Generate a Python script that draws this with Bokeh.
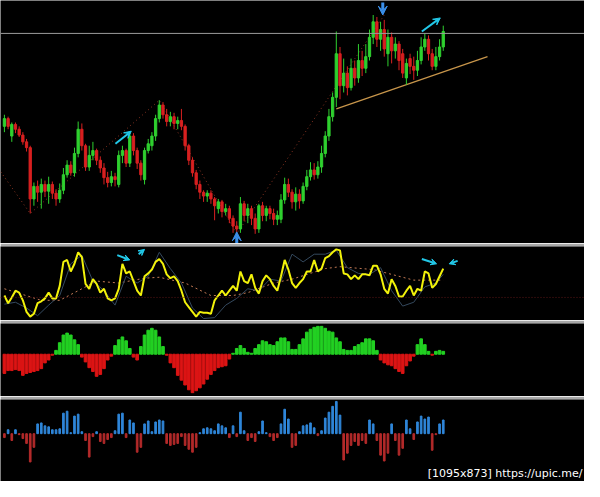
from bokeh.plotting import figure
from bokeh.layouts import column
from bokeh.models import Range1d, Span, Arrow, VeeHead, Label, ColumnDataSource
from bokeh.embed import file_html
from bokeh.resources import INLINE

# ---------------- data ----------------
bars = list(range(120))

opens = [122,130,112,124,119,113,106,100,47,60,54,62,55,62,53,47,56,72,82,74,
         94,119,102,80,92,97,87,79,69,64,70,62,92,97,84,112,97,84,67,97,
         102,112,130,144,134,127,132,125,128,122,102,87,74,62,54,50,53,47,37,44,
         34,37,27,19,16,42,30,37,27,16,40,30,37,32,26,26,46,62,54,44,
         52,45,60,70,77,72,80,94,112,132,152,197,164,177,162,182,172,190,182,194,
         214,230,212,222,197,214,200,207,197,172,192,184,180,190,204,212,197,184,194,204]
closes = [130,122,124,119,113,106,100,47,60,54,62,55,62,53,47,56,72,82,74,94,
          119,102,80,92,97,87,79,69,64,70,67,92,97,84,112,97,84,72,97,104,
          112,130,144,134,127,132,125,128,122,102,87,74,62,54,50,53,47,40,44,34,
          37,27,19,16,42,30,37,27,16,40,30,37,32,26,30,46,62,54,44,52,
          45,60,70,77,72,80,94,112,132,152,197,164,177,162,182,172,190,182,194,214,
          230,212,222,202,214,200,207,190,177,187,184,180,190,204,212,197,184,194,204,220]
highs = [134,132,126,126,122,116,109,102,64,66,68,66,70,65,57,63,79,87,86,100,
         127,125,104,102,106,99,91,84,75,76,74,97,102,99,116,115,100,87,100,109,
         116,134,149,147,140,137,136,132,140,124,104,90,77,66,56,56,56,49,47,46,
         42,40,30,24,49,45,42,40,32,42,44,40,40,37,35,52,69,68,57,59,
         57,64,77,85,84,86,102,117,140,157,220,204,192,184,192,190,207,200,207,222,
         237,235,230,232,222,219,214,210,202,192,197,194,200,214,218,216,202,204,212,226]
lows = [116,119,106,115,111,103,96,32,40,44,37,49,42,47,40,43,52,69,71,70,
        90,97,76,76,87,82,74,62,59,60,60,59,84,80,80,92,78,66,62,94,
        97,107,126,130,122,122,119,119,118,97,82,70,57,47,44,44,42,25,32,28,
        30,22,12,11,12,24,22,20,11,12,24,24,26,20,20,22,42,49,37,35,
        37,42,56,66,67,68,74,90,107,127,142,150,157,154,159,164,167,174,177,190,
        207,204,200,194,184,187,192,180,172,165,176,170,174,186,200,190,180,180,190,200]

# zigzag swing points (bar index, price)
zz_bar = [-1, 7, 42, 63, 103]
zz_price = [75, 32, 149, 11, 237]
# horizontal level and rising trend line
level_price = 218
trend_bar = [90, 131]
trend_price = [140, 194]

# oscillator panel
osc = [26,18,24,31,29,21,9,4,7,18,
       20,23,29,23,23,36,61,63,51,59,
       71,66,38,33,43,38,29,33,23,21,
       23,33,59,49,51,41,31,26,46,49,
       53,61,64,59,48,44,46,41,31,19,
       14,9,4,9,8,8,7,21,26,31,
       26,31,36,31,51,41,39,48,34,28,
       41,47,43,36,31,46,63,53,39,34,
       39,43,51,51,63,51,54,65,67,71,
       74,73,49,48,43,47,43,48,48,47,
       57,57,48,33,28,43,36,25,25,31,
       36,26,33,31,51,49,34,38,46,54]
sig_bar = [0,3,6,9,12,15,18,21,24,27,30,33,36,39,42,45,48,51,54,57,
           60,63,66,69,72,75,78,81,84,87,90,93,96,99,102,105,108,111,114,117,119]
sig = [17,19,13,5,16,26,59,68,41,31,16,46,39,46,71,54,39,13,2,3,
       16,23,33,31,43,41,69,61,69,69,73,55,49,48,55,31,15,19,35,39,48]
ma_bar = [0,10,15,25,31,38,42,49,56,62,66,73,78,87,91,100,107,111,119]
ma = [33,21,21,41,39,44,45,39,26,26,29,39,43,54,56,53,46,42,42]
osc_level = 24

# MACD-like histogram
hist1 = [-20,-17,-17,-16,-17,-22,-20,-19,-18,-17,
         -15,-9,-6,-1,4,12,20,22,20,15,
         10,-3,-8,-14,-18,-23,-21,-15,-6,-2,
         9,15,18,14,6,-3,-6,8,20,25,
         27,25,18,8,-1,-9,-14,-22,-27,-32,
         -37,-40,-38,-35,-31,-26,-21,-17,-14,-13,
         -12,-5,1,6,9,6,2,1,6,10,
         14,13,10,9,13,17,17,13,5,5,
         10,16,23,26,28,29,29,27,24,23,
         17,13,5,4,4,8,10,12,16,16,
         14,4,-6,-9,-11,-12,-15,-18,-20,-12,
         -7,-2,10,16,10,3,-1,3,4,3]

# bottom histogram
hist2 = [-4,4,-7,4,-1,-5,-10,-29,-14,10,
         11,8,7,4,4,5,21,23,1,18,
         20,2,-7,-24,-3,2,-8,-10,-6,-4,
         3,20,21,-4,14,11,-19,-14,10,13,
         2,12,14,13,-10,-12,-11,-10,-3,-12,
         -16,-19,-14,1,5,6,5,3,10,8,
         6,-4,8,-3,22,3,-7,-4,-8,2,
         13,1,-3,-7,-4,10,25,15,-14,-12,
         2,8,9,11,6,-2,3,16,22,28,
         33,19,-27,-20,-12,-8,-12,-7,-10,14,
         10,-7,-22,-28,-20,10,-7,-22,-15,14,
         5,-6,12,18,15,17,-17,-1,10,14]

# signal arrows: (bar_start, y_start, bar_end, y_end)
cyan_main = [(30.1, 104, 34.4, 117), (113.2, 220, 118.2, 234)]
blue_main = [(63, 1, 63, 13), (102.6, 250, 102.6, 237)]
cyan_osc = [(30.6, 68, 34.0, 63), (36.4, 69, 38.0, 74), (113.2, 64, 117.2, 59), (122.9, 62, 120.6, 59)]

# ---------------- colors ----------------
GREEN = "#2fd02f"
RED = "#d82020"
BG = "black"
SEP = "#a8a8a8"

W = 584
xr = Range1d(-1.06, 157.3)


def panel(h, y0, y1, top):
    p = figure(width=W, height=h, x_range=xr, y_range=Range1d(y0, y1),
               output_backend="svg", toolbar_location=None,
               x_axis_location=None, y_axis_location=None,
               background_fill_color=BG,
               border_fill_color=SEP if top else BG,
               min_border=0, min_border_left=0, min_border_right=0,
               min_border_bottom=0, min_border_top=top)
    p.grid.visible = False
    p.outline_line_color = None
    return p


# ---------------- price panel ----------------
p1 = panel(243, 1, 252, 0)
cols = [GREEN if c >= o else RED for o, c in zip(opens, closes)]
src = ColumnDataSource(dict(x=bars, h=highs, l=lows,
                            top=[max(o, c) for o, c in zip(opens, closes)],
                            bot=[min(o, c) for o, c in zip(opens, closes)],
                            col=cols))
p1.add_layout(Span(location=level_price, dimension="width", line_color="#9c9c9c", line_width=1))
p1.line(zz_bar, zz_price, line_color="#8a3422", line_dash="1 3", line_width=1)
p1.line(trend_bar, trend_price, line_color="#c8964b", line_width=1.2)
p1.segment(x0="x", y0="l", x1="x", y1="h", line_color="col", line_width=1, source=src)
p1.vbar(x="x", width=0.62, top="top", bottom="bot", fill_color="col", line_color="col", source=src)
for xs, ys, xe, ye in cyan_main:
    p1.add_layout(Arrow(end=VeeHead(size=7, fill_color="#22c8e8", line_color="#22c8e8"),
                        x_start=xs, y_start=ys, x_end=xe, y_end=ye,
                        line_color="#22c8e8", line_width=2))
for xs, ys, xe, ye in blue_main:
    p1.add_layout(Arrow(end=VeeHead(size=9, fill_color="#3a8ee8", line_color="#3a8ee8"),
                        x_start=xs, y_start=ys, x_end=xe, y_end=ye,
                        line_color="#3a8ee8", line_width=3))

# ---------------- oscillator panel ----------------
p2 = panel(77, 0, 77, 3)
p2.add_layout(Span(location=osc_level, dimension="width", line_color="#5a1616",
                   line_dash="1 2", line_width=1))
p2.line(ma_bar, ma, line_color="#c47a55", line_dash="2 3", line_width=1)
p2.line(sig_bar, sig, line_color="#34495e", line_width=1)
p2.line(bars, osc, line_color="#f2f20a", line_width=2)
for xs, ys, xe, ye in cyan_osc:
    p2.add_layout(Arrow(end=VeeHead(size=6, fill_color="#22c8e8", line_color="#22c8e8"),
                        x_start=xs, y_start=ys, x_end=xe, y_end=ye,
                        line_color="#22c8e8", line_width=2))

# ---------------- histogram panel ----------------
p3 = panel(76, -44, 32, 3)
p3.vbar(x=bars, width=0.72, top=hist1, bottom=0,
        color=["#22d022" if v >= 0 else "#dc1414" for v in hist1])

# ---------------- bottom histogram ----------------
p4 = panel(85, -49, 35, 3)
p4.vbar(x=bars, width=0.45, top=hist2, bottom=0,
        color=["#2f86d9" if v >= 0 else "#b32a2a" for v in hist2])
p4.add_layout(Label(x=582, y=2, x_units="screen", y_units="screen",
                    text="[1095x873] https://upic.me/", text_align="right",
                    text_color="white", text_font="DejaVu Sans", text_font_size="11px"))

layout = column(p1, p2, p3, p4, spacing=0)
open("out.html", "w").write(file_html(layout, INLINE))
